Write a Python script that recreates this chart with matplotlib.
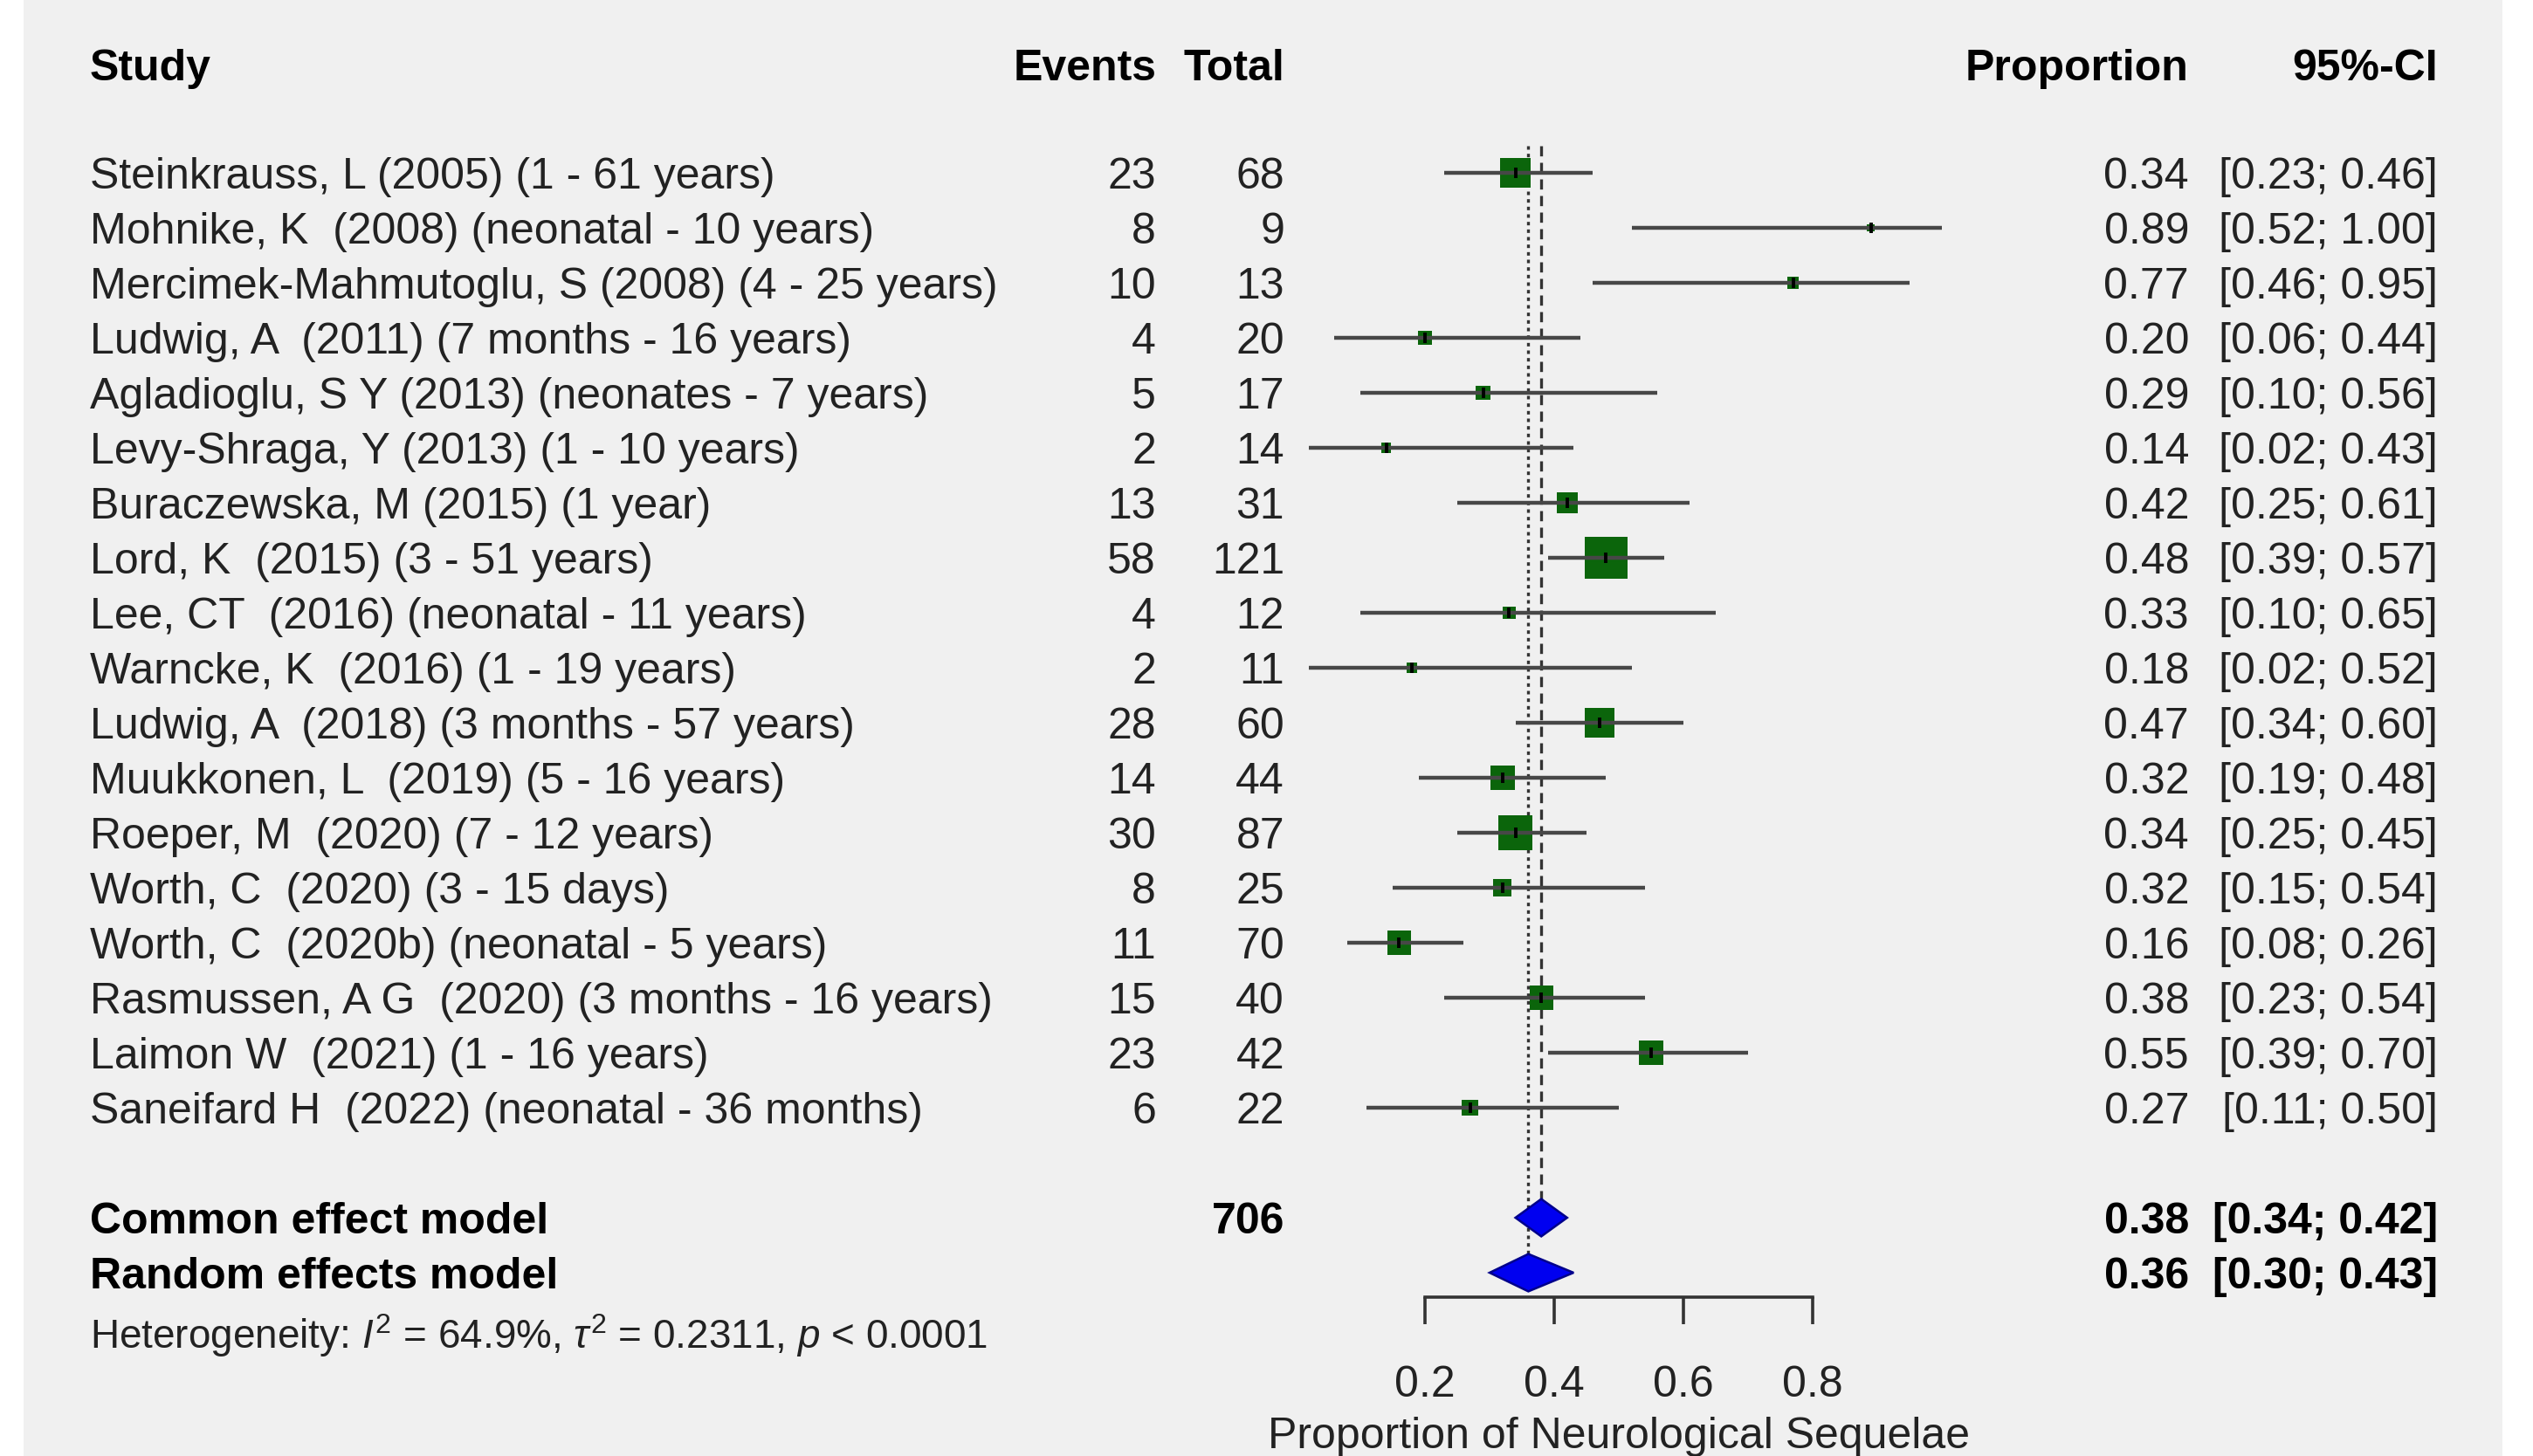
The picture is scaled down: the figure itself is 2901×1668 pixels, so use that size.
import matplotlib
matplotlib.use("Agg")
import matplotlib.pyplot as plt
import matplotlib.transforms as mtransforms
from matplotlib.patches import Polygon, Rectangle

plt.rcParams['font.family'] = ['Liberation Sans', 'DejaVu Sans']
plt.rcParams['mathtext.fontset'] = 'custom'
plt.rcParams['mathtext.rm'] = 'Liberation Sans'
plt.rcParams['mathtext.it'] = 'Liberation Sans:italic'

# data
studies = [
    "Steinkrauss, L (2005) (1 - 61 years)",
    "Mohnike, K  (2008) (neonatal - 10 years)",
    "Mercimek-Mahmutoglu, S (2008) (4 - 25 years)",
    "Ludwig, A  (2011) (7 months - 16 years)",
    "Agladioglu, S Y (2013) (neonates - 7 years)",
    "Levy-Shraga, Y (2013) (1 - 10 years)",
    "Buraczewska, M (2015) (1 year)",
    "Lord, K  (2015) (3 - 51 years)",
    "Lee, CT  (2016) (neonatal - 11 years)",
    "Warncke, K  (2016) (1 - 19 years)",
    "Ludwig, A  (2018) (3 months - 57 years)",
    "Muukkonen, L  (2019) (5 - 16 years)",
    "Roeper, M  (2020) (7 - 12 years)",
    "Worth, C  (2020) (3 - 15 days)",
    "Worth, C  (2020b) (neonatal - 5 years)",
    "Rasmussen, A G  (2020) (3 months - 16 years)",
    "Laimon W  (2021) (1 - 16 years)",
    "Saneifard H  (2022) (neonatal - 36 months)",
]
events = [23, 8, 10, 4, 5, 2, 13, 58, 4, 2, 28, 14, 30, 8, 11, 15, 23, 6]
totals = [68, 9, 13, 20, 17, 14, 31, 121, 12, 11, 60, 44, 87, 25, 70, 40, 42, 22]
prop = [0.34, 0.89, 0.77, 0.20, 0.29, 0.14, 0.42, 0.48, 0.33, 0.18,
        0.47, 0.32, 0.34, 0.32, 0.16, 0.38, 0.55, 0.27]
lower = [0.23, 0.52, 0.46, 0.06, 0.10, 0.02, 0.25, 0.39, 0.10, 0.02,
         0.34, 0.19, 0.25, 0.15, 0.08, 0.23, 0.39, 0.11]
upper = [0.46, 1.00, 0.95, 0.44, 0.56, 0.43, 0.61, 0.57, 0.65, 0.52,
         0.60, 0.48, 0.45, 0.54, 0.26, 0.54, 0.70, 0.50]
# square weights (%), judged from the square sizes
weights = [10.0, 0.6, 1.5, 2.1, 2.3, 1.1, 5.0, 19.9, 1.8, 1.1,
           9.8, 6.3, 12.9, 3.6, 6.1, 6.2, 6.8, 2.9]

total_n = 706
common = (0.38, 0.34, 0.42)
random_ = (0.36, 0.30, 0.43)
het_text = r"Heterogeneity: $I^2$ = 64.9%, $\tau^2$ = 0.2311, $p$ < 0.0001"
xticks = [0.2, 0.4, 0.6, 0.8]
xlabel = "Proportion of Neurological Sequelae"

W, H = 2901, 1668
fig = plt.figure(figsize=(W / 100, H / 100), dpi=100, facecolor="white")
fig.patches.append(Rectangle((27 / W, 0), (2866 - 27) / W, 1,
                             transform=fig.transFigure, facecolor="#f0f0f0",
                             edgecolor="none", zorder=-10))

ax = fig.add_axes([1484 / W, 0, 740 / W, 1])
ax.patch.set_visible(False)
ax.set_xlim(0, 1)
ax.set_ylim((H - 198) / 63, -198 / 63)

n = len(studies)
rows = list(range(n))
row_common, row_random = 19, 20
fs = 36
txt = "#222222"

# studies
ax.scatter(prop, rows, s=[62 * w for w in weights], marker="s",
           color="#0b650b", linewidths=0, zorder=3)
ax.hlines(rows, lower, upper, color="#474747", lw=3.2, zorder=4)
ax.plot(prop, rows, ls="none", marker="|", ms=9, mew=2.8, color="black",
        zorder=5)

# reference lines
ax.vlines(random_[0], -0.5, row_random - 0.33, colors="#333333", lw=2.4,
          linestyles=(0, (1.2, 1.4)), zorder=2)
ax.vlines(common[0], -0.5, row_common - 0.32, colors="#333333", lw=2.4,
          linestyles=(0, (3.5, 2.2)), zorder=2)

# diamonds
for row, (est, lo, hi) in [(row_common, common), (row_random, random_)]:
    ax.add_patch(Polygon([(lo, row), (est, row - 0.34), (hi, row),
                          (est, row + 0.34)], closed=True,
                         facecolor="#0000f0", edgecolor="#00008b", lw=1.8,
                         zorder=5))

# x axis
for s in ["left", "right", "top"]:
    ax.spines[s].set_visible(False)
ax.spines["bottom"].set_position(("data", 20.45))
ax.spines["bottom"].set_bounds(xticks[0], xticks[-1])
ax.spines["bottom"].set_linewidth(2.6)
ax.spines["bottom"].set_color("#333333")
ax.set_yticks([])
ax.set_xticks(xticks)
ax.set_xticklabels([f"{t:.1f}" for t in xticks])
ax.tick_params(axis="x", direction="out", length=22, width=2.6,
               color="#333333", labelsize=fs, labelcolor=txt, pad=34)
ax.set_xlabel(xlabel, fontsize=fs, color=txt, labelpad=9)

# text columns
tr = mtransforms.blended_transform_factory(fig.transFigure, ax.transData)
x_study, x_ev, x_tot, x_prop, x_ci = 103 / W, 1324 / W, 1471 / W, 2507 / W, 2792 / W
hdr_y = (74 - 198) / 63
va = "center_baseline"
for x, label, ha in [(x_study, "Study", "left"), (x_ev, "Events", "right"),
                     (x_tot, "Total", "right"), (x_prop, "Proportion", "right"),
                     (x_ci, "95%-CI", "right")]:
    ax.text(x, hdr_y, label, transform=tr, ha=ha, va=va, fontsize=fs,
            fontweight="bold", color="black")

for i in rows:
    ax.text(x_study, i, studies[i], transform=tr, ha="left", va=va,
            fontsize=fs, color=txt)
    ax.text(x_ev, i, str(events[i]), transform=tr, ha="right", va=va,
            fontsize=fs, color=txt)
    ax.text(x_tot, i, str(totals[i]), transform=tr, ha="right", va=va,
            fontsize=fs, color=txt)
    ax.text(x_prop, i, f"{prop[i]:.2f}", transform=tr, ha="right", va=va,
            fontsize=fs, color=txt)
    ax.text(x_ci, i, f"[{lower[i]:.2f}; {upper[i]:.2f}]", transform=tr,
            ha="right", va=va, fontsize=fs, color=txt)

for row, label, (est, lo, hi) in [(row_common, "Common effect model", common),
                                  (row_random, "Random effects model", random_)]:
    ax.text(x_study, row, label, transform=tr, ha="left", va=va,
            fontsize=fs, fontweight="bold", color="black")
    ax.text(x_prop, row, f"{est:.2f}", transform=tr, ha="right", va=va,
            fontsize=fs, fontweight="bold", color="black")
    ax.text(x_ci, row, f"[{lo:.2f}; {hi:.2f}]", transform=tr, ha="right",
            va=va, fontsize=fs, fontweight="bold", color="black")
ax.text(x_tot, row_common, str(total_n), transform=tr, ha="right", va=va,
        fontsize=fs, fontweight="bold", color="black")
ax.text(x_study, 21.05, het_text, transform=tr, ha="left", va=va,
        fontsize=33, color=txt)

fig.savefig("out.png", dpi=100, facecolor=fig.get_facecolor())
